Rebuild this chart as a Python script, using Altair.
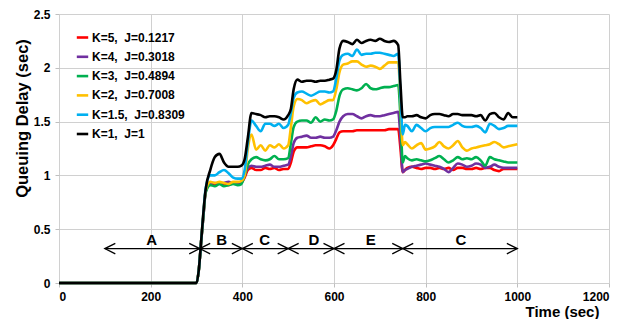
import altair as alt
import pandas as pd

# ---------------- data ----------------
time_s = [0, 100, 200, 300, 305, 310, 315, 320,
          330, 340, 350, 360, 370, 380, 390, 398,
          405, 412, 420, 430, 440, 450, 460, 470, 480, 490, 500,
          506, 512, 520, 530, 540, 550, 560, 570, 580, 590, 598,
          605, 612, 620, 630, 640, 650, 660, 670, 680, 690, 700, 710, 720, 730, 740, 745,
          750, 755, 760, 770, 780, 790, 800, 810, 820, 830, 840, 850, 860, 870, 880, 890,
          900, 910, 920, 930, 940, 950, 960, 970, 980, 990, 1000]

delay_k5 = [0, 0, 0, 0, 0.12, 0.38, 0.62, 0.85,
            0.92, 0.91, 0.93, 0.92, 0.91, 0.93, 0.92, 0.93,
            0.98, 1.05, 1.07, 1.05, 1.05, 1.07, 1.06, 1.07, 1.05, 1.06, 1.06,
            1.12, 1.22, 1.26, 1.26, 1.26, 1.27, 1.28, 1.28, 1.27, 1.25, 1.28,
            1.34, 1.40, 1.41, 1.41, 1.41, 1.42, 1.42, 1.42, 1.42, 1.42, 1.42, 1.42, 1.43, 1.43, 1.43, 1.25,
            1.03, 1.05, 1.07, 1.08, 1.07, 1.06, 1.07, 1.07, 1.06, 1.07, 1.06, 1.07, 1.05, 1.07, 1.07, 1.06,
            1.06, 1.07, 1.06, 1.07, 1.07, 1.05, 1.04, 1.06, 1.06, 1.06, 1.06]

delay_k4 = [0, 0, 0, 0, 0.12, 0.38, 0.62, 0.85,
            0.93, 0.93, 0.92, 0.93, 0.94, 0.93, 0.93, 0.94,
            1.00, 1.07, 1.09, 1.08, 1.08, 1.09, 1.10, 1.08, 1.08, 1.09, 1.10,
            1.18, 1.30, 1.35, 1.36, 1.37, 1.35, 1.35, 1.36, 1.35, 1.35, 1.36,
            1.42, 1.50, 1.55, 1.57, 1.57, 1.55, 1.53, 1.55, 1.56, 1.55, 1.55, 1.56, 1.57, 1.58, 1.59, 1.35,
            1.03, 1.05, 1.06, 1.08, 1.09, 1.10, 1.11, 1.10, 1.09, 1.08, 1.06, 1.03, 1.07, 1.11, 1.10, 1.08,
            1.09, 1.11, 1.10, 1.07, 1.08, 1.10, 1.08, 1.07, 1.07, 1.07, 1.07]

delay_k3 = [0, 0, 0, 0, 0.12, 0.38, 0.62, 0.84,
            0.91, 0.90, 0.92, 0.90, 0.91, 0.92, 0.91, 0.92,
            1.00, 1.10, 1.15, 1.17, 1.15, 1.14, 1.15, 1.18, 1.15, 1.15, 1.16,
            1.30, 1.45, 1.50, 1.51, 1.51, 1.49, 1.54, 1.50, 1.52, 1.51, 1.52,
            1.60, 1.74, 1.80, 1.81, 1.80, 1.79, 1.81, 1.85, 1.81, 1.80, 1.81, 1.82, 1.82, 1.83, 1.84, 1.55,
            1.12, 1.18, 1.16, 1.14, 1.15, 1.14, 1.13, 1.14, 1.16, 1.18, 1.15, 1.12, 1.14, 1.17, 1.15, 1.16,
            1.15, 1.17, 1.14, 1.09, 1.17, 1.15, 1.14, 1.13, 1.12, 1.12, 1.12]

delay_k2 = [0, 0, 0, 0, 0.12, 0.38, 0.65, 0.86,
            0.94, 0.93, 0.94, 0.93, 0.92, 0.94, 0.94, 0.95,
            1.00, 1.25, 1.38, 1.24, 1.28, 1.23, 1.28, 1.26, 1.29, 1.25, 1.28,
            1.45, 1.64, 1.71, 1.70, 1.67, 1.69, 1.70, 1.66, 1.68, 1.70, 1.70,
            1.80, 1.96, 2.03, 2.04, 2.06, 2.06, 2.03, 2.01, 2.02, 2.01, 1.99, 2.02, 2.05, 2.05, 2.05, 1.70,
            1.28, 1.31, 1.29, 1.25, 1.28, 1.30, 1.24, 1.25, 1.27, 1.31, 1.27, 1.25, 1.28, 1.32, 1.26, 1.23,
            1.25, 1.26, 1.27, 1.28, 1.29, 1.31, 1.29, 1.26, 1.27, 1.28, 1.29]

delay_k15 = [0, 0, 0, 0, 0.12, 0.38, 0.65, 0.88,
             1.00, 1.00, 1.03, 1.05, 1.02, 0.98, 0.97, 0.97,
             1.05, 1.30, 1.51, 1.46, 1.41, 1.48, 1.48, 1.46, 1.48, 1.44, 1.47,
             1.58, 1.72, 1.77, 1.78, 1.76, 1.74, 1.76, 1.78, 1.78, 1.77, 1.78,
             1.90, 2.07, 2.12, 2.13, 2.11, 2.17, 2.12, 2.13, 2.13, 2.14, 2.14, 2.13, 2.12, 2.11, 2.13, 1.75,
             1.38, 1.47, 1.46, 1.41, 1.47, 1.44, 1.41, 1.44, 1.45, 1.45, 1.45, 1.45, 1.47, 1.49, 1.46, 1.45,
             1.45, 1.46, 1.44, 1.40, 1.48, 1.46, 1.43, 1.44, 1.46, 1.46, 1.46]

delay_k1 = [0, 0, 0, 0, 0.12, 0.38, 0.65, 0.87,
            1.05, 1.17, 1.20, 1.12, 1.08, 1.08, 1.08, 1.09,
            1.15, 1.35, 1.58, 1.57, 1.56, 1.54, 1.55, 1.55, 1.54, 1.52, 1.56,
            1.62, 1.80, 1.89, 1.87, 1.88, 1.88, 1.87, 1.88, 1.88, 1.89, 1.90,
            1.98, 2.18, 2.25, 2.24, 2.22, 2.26, 2.23, 2.25, 2.26, 2.25, 2.27, 2.25, 2.24, 2.25, 2.21, 1.85,
            1.54, 1.54, 1.55, 1.55, 1.56, 1.54, 1.53, 1.56, 1.57, 1.57, 1.56, 1.55, 1.57, 1.57, 1.56, 1.56,
            1.56, 1.55, 1.56, 1.51, 1.57, 1.58, 1.54, 1.52, 1.58, 1.54, 1.54]

series_labels = ["K=5,\u00a0 J=0.1217", "K=4,\u00a0 J=0.3018", "K=3,\u00a0 J=0.4894",
                 "K=2,\u00a0 J=0.7008", "K=1.5,\u00a0 J=0.8309", "K=1,\u00a0 J=1"]
series_values = [delay_k5, delay_k4, delay_k3, delay_k2, delay_k15, delay_k1]

phase_names = ["A", "B", "C", "D", "E", "C"]
phase_start = [100, 307, 400, 500, 600, 750]
phase_end = [307, 400, 500, 600, 750, 1000]
phase_label_t = [202, 355, 449, 556, 680, 877]
arrow_level = 0.32

x_ticks = [0, 200, 400, 600, 800, 1000, 1200]
y_ticks = [0, 0.5, 1, 1.5, 2, 2.5]

# ---------------- styles ----------------
colors = ["#FF0000", "#7030A0", "#00B050", "#FFC000", "#00B0F0", "#000000"]
widths = [2.6, 2.6, 2.6, 2.6, 2.6, 3.2]
FONT = "Liberation Sans"

rows = []
for order, (lab, vals) in enumerate(zip(series_labels, series_values)):
    for t, v in zip(time_s, vals):
        rows.append({"series": lab, "ord": order, "t": t, "v": v})
df = pd.DataFrame(rows)

phases = pd.DataFrame({
    "name": phase_names,
    "start": phase_start,
    "end": phase_end,
    "lt": phase_label_t,
    "level": [arrow_level] * len(phase_names),
})

x_scale = alt.Scale(domain=[0, 1200], nice=False, zero=False)
y_scale = alt.Scale(domain=[0, 2.5], nice=False)

x_axis = alt.Axis(values=x_ticks, format="d", title="Time (sec)",
                  titleX=503, titleY=33, titleAlign="center", titleBaseline="alphabetic",
                  titleAnchor="start")
y_axis = alt.Axis(values=y_ticks, format="~g", title="Queuing Delay (sec)",
                  titleX=-32, titleY=104, titleAlign="center", titleBaseline="alphabetic",
                  titleAngle=-90, titleFontSize=16.5)

lines = alt.Chart(df).mark_line(interpolate="monotone").encode(
    x=alt.X("t:Q", scale=x_scale, axis=x_axis),
    y=alt.Y("v:Q", scale=y_scale, axis=y_axis),
    color=alt.Color("series:N", sort=series_labels,
                    scale=alt.Scale(domain=series_labels, range=colors),
                    legend=alt.Legend(title=None, orient="none", legendX=16, legendY=16,
                                      symbolType="stroke", symbolStrokeWidth=5,
                                      symbolSize=130, labelFontSize=12,
                                      labelFontWeight="bold", labelFont=FONT,
                                      labelColor="black", labelOffset=2,
                                      rowPadding=5.3, padding=0)),
    strokeWidth=alt.StrokeWidth("series:N", sort=series_labels,
                                scale=alt.Scale(domain=series_labels, range=widths),
                                legend=None),
    order=alt.Order("t:Q"),
)

rules = alt.Chart(phases).mark_rule(color="black", strokeWidth=1.2).encode(
    x=alt.X("start:Q", scale=x_scale, axis=x_axis),
    x2="end:Q",
    y=alt.Y("level:Q", scale=y_scale, axis=y_axis),
)

left_heads = alt.Chart(phases).mark_point(
    shape="M2,-1L0,0L2,1", size=110, filled=False, strokeWidth=1.3,
    color="black", opacity=1
).encode(
    x=alt.X("start:Q", scale=x_scale, axis=x_axis),
    y=alt.Y("level:Q", scale=y_scale, axis=y_axis),
)

right_heads = alt.Chart(phases).mark_point(
    shape="M-2,-1L0,0L-2,1", size=110, filled=False, strokeWidth=1.3,
    color="black", opacity=1
).encode(
    x=alt.X("end:Q", scale=x_scale, axis=x_axis),
    y=alt.Y("level:Q", scale=y_scale, axis=y_axis),
)

labels = alt.Chart(phases).mark_text(
    font=FONT, fontSize=15, fontWeight="bold", baseline="alphabetic",
    align="center", dy=-4, color="black"
).encode(
    x=alt.X("lt:Q", scale=x_scale, axis=x_axis),
    y=alt.Y("level:Q", scale=y_scale, axis=y_axis),
    text="name:N",
)

chart = alt.layer(lines, rules, left_heads, right_heads, labels).properties(
    width=550, height=269,
    autosize=alt.AutoSizeParams(type="none"),
    padding={"left": 51, "top": 6, "right": 13, "bottom": 36},
).configure_view(stroke=None).configure_axis(
    grid=True, gridColor="#D0D0D0", gridWidth=1,
    domain=False, ticks=True, tickColor="#BFBFBF", tickSize=4,
    labelFont=FONT, labelFontSize=12, labelFontWeight="bold", labelColor="black",
    titleFont=FONT, titleFontSize=15, titleFontWeight="bold", titleColor="black",
).configure_axisY(labelPadding=5).configure_axisX(labelPadding=4)

chart.save("out.html", embed_options={"renderer": "svg", "actions": False})
